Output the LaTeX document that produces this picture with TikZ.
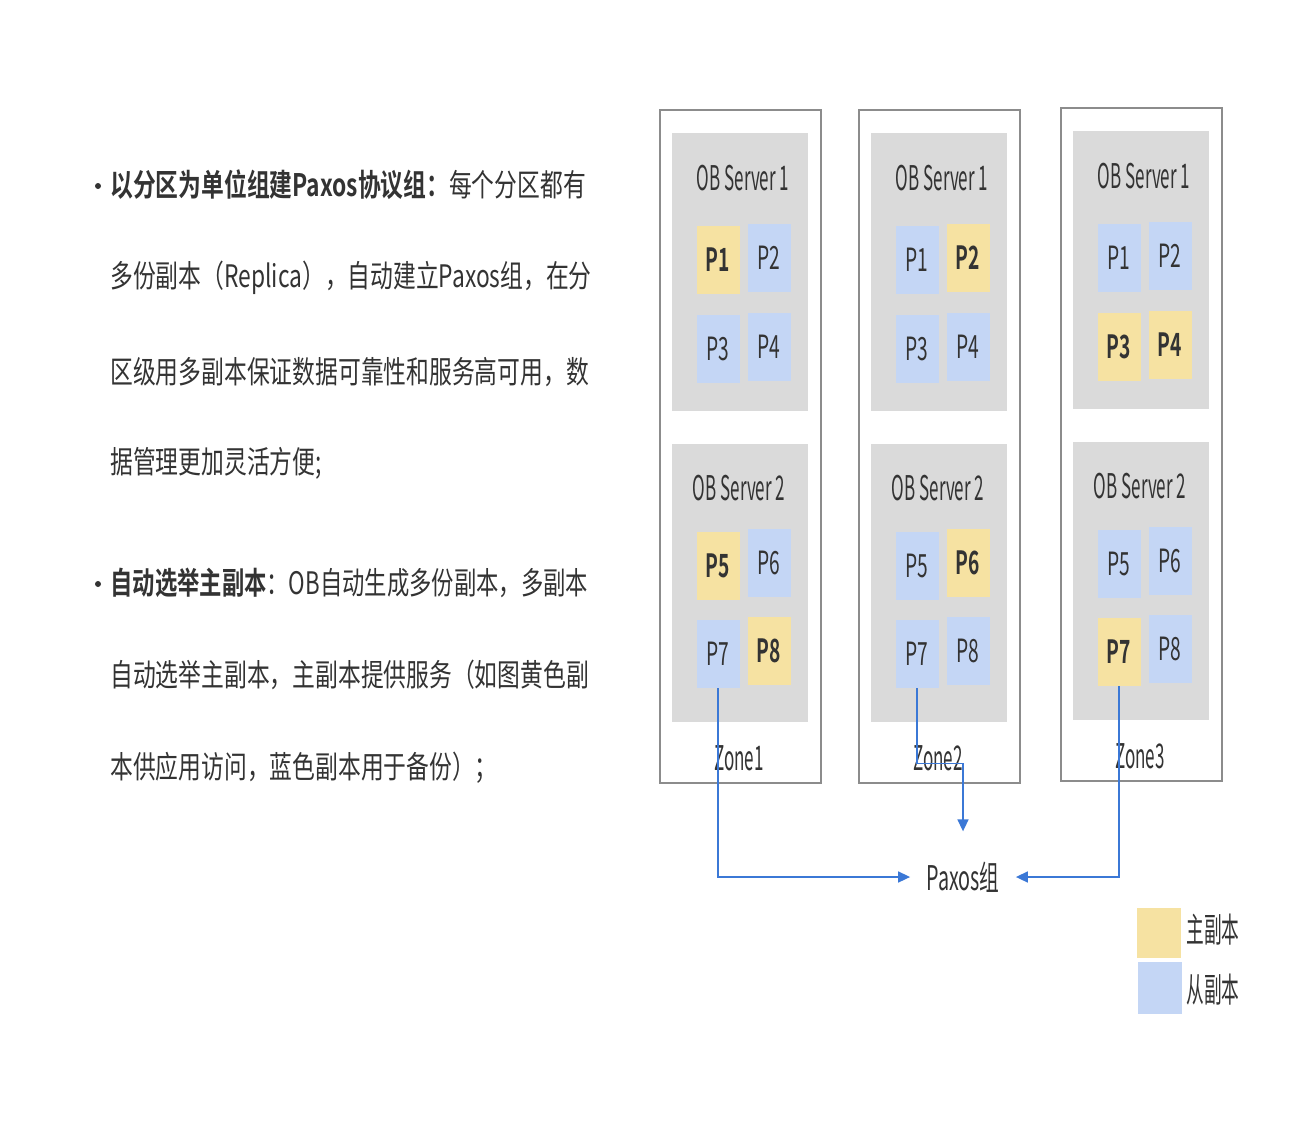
\documentclass[tikz,border=0pt]{standalone}
\usepackage{fontspec}
\usepackage{graphicx}
\setmainfont{Noto Sans CJK SC}[BoldFont={Noto Sans CJK SC Bold}]
\usetikzlibrary{arrows.meta}
\definecolor{pyellow}{HTML}{F6E2A2}
\definecolor{pblue}{HTML}{C4D6F5}
\definecolor{sgray}{HTML}{DADADA}
\definecolor{zgray}{HTML}{8C8C8C}
\definecolor{lblue}{HTML}{3B78D6}
\definecolor{txt}{HTML}{333333}
\newcommand\cond[2][0.5]{\scalebox{#1}[1]{#2}}

\begin{document}
\begin{tikzpicture}[x=0.5pt,y=-0.5pt,
  zonebox/.style={draw=zgray, line width=1pt, fill=white, minimum width=80.5pt, minimum height=336.5pt, inner sep=0},
  serverbox/.style={fill=sgray, minimum width=68pt, minimum height=139pt, inner sep=0},
  pri/.style={fill=pyellow, minimum width=21.5pt, minimum height=34pt, inner sep=0, text=txt, font=\fontsize{16pt}{16pt}\selectfont\bfseries},
  bak/.style={fill=pblue, minimum width=21.5pt, minimum height=34pt, inner sep=0, text=txt, font=\fontsize{16pt}{16pt}\selectfont},
  title/.style={inner sep=0, text=txt, font=\fontsize{17pt}{17pt}\selectfont},
  line/.style={anchor=west, inner sep=0, text=txt, font=\fontsize{15.5pt}{17pt}\selectfont},
  bullet/.style={circle, fill=txt, inner sep=0, minimum size=3pt},
  link/.style={draw=lblue, line width=0.8pt, -{Triangle[length=6pt,width=5.5pt]}},
]
\useasboundingbox (0,0) rectangle (1300,1136);

%% text
\node[bullet] (dot1) at (98,186) {};
\node[line] (l1) at (110,185) {\cond[0.735]{\textbf{以分区为单位组建Paxos协议组：}每个分区都有}};
\node[line] (l2) at (110,278) {\cond[0.735]{多份副本（Replica），自动建立Paxos组，在分}};
\node[line] (l3) at (110,372) {\cond[0.735]{区级用多副本保证数据可靠性和服务高可用，数}};
\node[line] (l4) at (110,463) {\cond[0.735]{据管理更加灵活方便;}};
\node[bullet] (dot2) at (98,584) {};
\node[line] (l5) at (110,583) {\cond[0.72]{\textbf{自动选举主副本}：OB自动生成多份副本，多副本}};
\node[line] (l6) at (110,675) {\cond[0.735]{自动选举主副本，主副本提供服务（如图黄色副}};
\node[line] (l7) at (110,768) {\cond[0.735]{本供应用访问，蓝色副本用于备份）；}};

%% zones
\foreach \zx/\zy/\zn in {659/109/1,858/109/2,1060/107/3}{
  \node[zonebox, anchor=north west] (zone\zn) at (\zx,\zy) {};
  \node[title] (zone\zn lbl) at (\zx+80,\zy+649) {\cond{Zone\zn}};
  \node[serverbox, anchor=north west] (z\zn s1) at (\zx+13,\zy+24) {};
  \node[title] (z\zn s1lbl) at (\zx+84,\zy+69) {\cond{OB Server 1}};
  \node[serverbox, anchor=north west] (z\zn s2) at (\zx+13,\zy+335) {};
  \node[title] (z\zn s2lbl) at (\zx+80,\zy+379) {\cond{OB Server 2}};
}

%% partitions
\foreach \zx/\zy/\zn/\ka/\kb/\kc/\kd/\ke/\kf/\kg/\kh in
  {659/109/1/pri/bak/bak/bak/pri/bak/bak/pri,
   858/109/2/bak/pri/bak/bak/bak/pri/bak/bak,
   1060/107/3/bak/bak/pri/pri/bak/bak/pri/bak}{
  \node[\ka] (z\zn p1) at (\zx+59,\zy+151) {\cond[0.6]{P1}};
  \node[\kb] (z\zn p2) at (\zx+110,\zy+149) {\cond[0.6]{P2}};
  \node[\kc] (z\zn p3) at (\zx+59,\zy+240) {\cond[0.6]{P3}};
  \node[\kd] (z\zn p4) at (\zx+110,\zy+238) {\cond[0.6]{P4}};
  \node[\ke] (z\zn p5) at (\zx+59,\zy+457) {\cond[0.6]{P5}};
  \node[\kf] (z\zn p6) at (\zx+110,\zy+454) {\cond[0.6]{P6}};
  \node[\kg] (z\zn p7) at (\zx+59,\zy+545) {\cond[0.6]{P7}};
  \node[\kh] (z\zn p8) at (\zx+110,\zy+542) {\cond[0.6]{P8}};
}

%% paxos group
\node[inner xsep=8pt, inner ysep=4pt, text=txt, font=\fontsize{17pt}{17pt}\selectfont] (paxos) at (963,877) {\cond[0.58]{Paxos组}};
\draw[link] (z1p7.south) |- (paxos.west);
\draw[link] (z3p7.south) |- (paxos.east);
\draw[link, shorten >=11pt] (z2p7.south) -- ++(0,75) -| (paxos.north);

%% legend
\node[fill=pyellow, minimum width=22pt, minimum height=25pt, inner sep=0] (lgpri) at (1159,933) {};
\node[fill=pblue, minimum width=22pt, minimum height=26pt, inner sep=0] (lgbak) at (1160,988) {};
\node[title, anchor=west] (lgprilbl) at (1186,930) {\cond[0.52]{主副本}};
\node[title, anchor=west] (lgbaklbl) at (1186,990) {\cond[0.52]{从副本}};
\end{tikzpicture}
\end{document}
